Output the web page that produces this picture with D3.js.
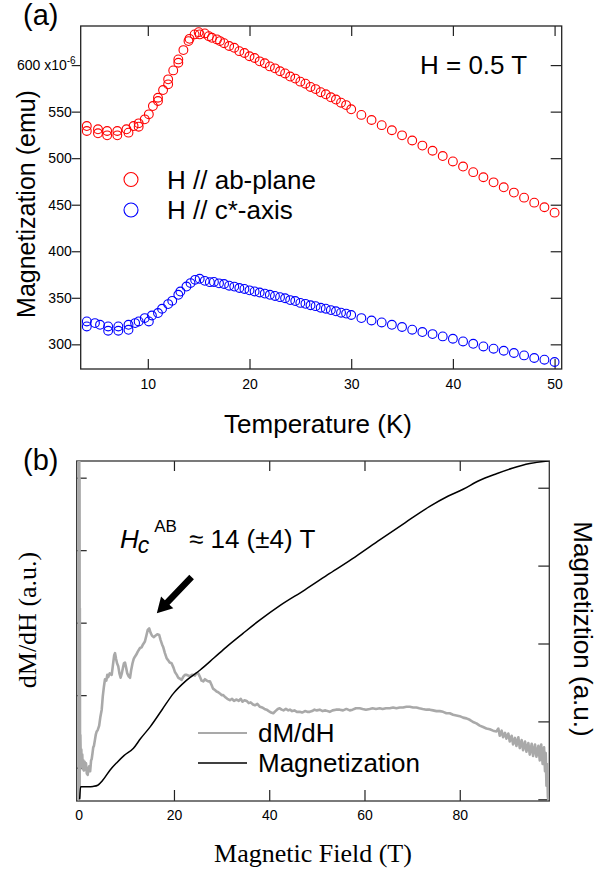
<!DOCTYPE html>
<html><head><meta charset="utf-8">
<script src="https://cdn.jsdelivr.net/npm/d3@7"></script>
<style>
body{margin:0;background:#fff}
svg{display:block}
text{font-family:"Liberation Sans",Arial,sans-serif;fill:#000}
.serif{font-family:"Liberation Serif","Times New Roman",serif}
</style>
</head><body>
<svg id="c" width="598" height="875"></svg>
<script>
// ---------- Panel (a) data ----------
const tempAB = [4.0,4.0,5.1,5.1,6.0,6.0,7.0,7.0,7.9,8.1,8.6,9.1,9.1,9.7,10.1,10.5,11.0,11.0,11.5,12.0,12.0,12.5,13.0,13.0,13.5,14.0,14.1,14.6,15.0,15.1,15.6,16.0,16.3,16.8,17.1,17.5,18.0,18.5,19.0,19.5,20.0,20.5,21.0,21.5,22.0,22.5,23.0,23.5,24.0,24.5,25.0,25.5,26.0,26.5,27.0,27.5,28.0,28.5,29.0,29.5,30.0,31,32,33,34,35,36,37,38,39,40,41,42,43,44,45,46,47,48,49,50];
const magAB  = [534.5,529.2,531.0,526.7,529.2,524.5,529.2,524.5,531.0,527.4,534.5,537.4,533.8,541.7,547.1,556.0,561.4,564.9,573.2,579.3,584.7,594.3,602.5,606.1,616.1,625.8,628.2,633.0,635.4,633.0,634.0,631.1,629.3,627.6,625.8,623.5,620.5,618.6,615.0,613.0,609.5,607.6,604.0,602.0,598.6,596.5,593.4,591.0,587.7,585.5,582.2,580.0,576.5,574.2,570.9,568.6,565.4,563.0,559.6,557.0,552.5,546.5,541.0,535.5,530.0,524.5,519.0,513.5,508.0,502.3,496.5,491.0,485.0,479.5,474.0,468.7,463.0,457.6,452.2,447.3,441.5];
const tempC  = [4.0,4.0,4.8,5.3,6.1,6.1,7.1,7.1,8.1,8.1,8.75,9.1,9.7,10.1,10.4,11.0,11.4,12.0,12.4,13.0,13.2,13.8,14.2,14.65,15.1,15.6,16.1,16.5,17.0,17.5,18.0,18.5,19.0,19.5,20.0,20.5,21.0,21.5,22.0,22.5,23.0,23.5,24.0,24.5,25.0,25.5,26.0,26.5,27.0,27.5,28.0,28.5,29.0,29.5,30.0,31,32,33,34,35,36,37,38,39,40,41,42,43,44,45,46,47,48,49,50];
const magC   = [324.6,319.2,322.8,321.0,319.2,314.6,319.2,314.6,321.0,315.6,322.8,324.6,328.2,324.6,331.0,333.6,338.2,343.2,346.7,353.2,356.7,362.1,365.8,369.3,370.4,368.2,366.8,367.0,365.5,364.8,363.0,362.0,360.5,359.5,358.0,356.8,355.7,354.5,353.2,352.0,350.7,349.5,347.5,346.5,344.5,343.5,342.0,341.0,339.3,338.3,336.8,335.5,334.0,333.0,331.5,328.2,325.6,323.5,321.0,318.6,315.7,313.2,311.0,308.5,306.0,303.1,300.6,297.7,295.3,293.1,290.7,288.1,285.3,283.5,281.0];
const xTicksA = [10,20,30,40,50];
const yTicksA = [300,350,400,450,500,550,600];
const legendA = ["H // ab-plane","H // c*-axis"];
const colorsA = ["#ff0000","#0000ff"];

// ---------- Panel (b) data ----------
const fieldD = [0.00,0.03,0.06,0.09,0.12,0.15,0.18,0.21,0.24,0.28,0.35,0.45,0.55,0.65,0.75,0.85,0.97,1.10,1.25,1.40,1.53,1.70,1.89,2.05,2.20,2.40,2.60,2.73,2.90,3.05,3.20,3.40,3.60,3.78,4.00,4.30,4.55,4.83,5.05,5.30,5.52,5.80,6.00,6.20,6.50,6.93,7.20,7.45,7.62,7.85,8.05,8.30,8.55,8.80,9.05,9.30,9.50,9.72,9.95,10.20,10.50,10.77,11.00,11.30,11.55,11.80,12.10,12.40,12.87,13.20,13.50,13.90,14.20,14.50,14.80,15.10,15.40,15.80,16.10,16.50,16.90,17.20,17.50,17.76,18.10,18.46,18.80,19.10,19.50,19.90,20.20,20.60,20.90,21.20,21.60,22.00,22.30,22.70,23.00,23.40,23.70,24.05,24.40,24.70,25.10,25.40,25.80,26.15,26.50,26.90,27.20,27.55,27.90,28.20,28.60,28.95,29.30,29.70,30.00,30.35,30.80,31.20,31.75,32.20,32.60,33.15,33.60,34.00,34.40,34.80,35.26,35.70,36.10,36.60,37.00,37.50,38.05,38.50,39.00,39.45,39.90,40.40,40.85,41.30,41.80,42.20,42.60,43.00,43.50,44.00,44.35,44.80,45.30,45.80,46.40,46.90,47.50,48.00,48.50,49.00,49.50,50.00,50.60,51.20,51.80,52.70,53.30,54.00,54.80,55.50,56.20,56.90,57.50,58.20,59.00,59.60,60.30,61.10,61.70,62.40,63.20,63.80,64.50,65.30,66.00,66.70,67.40,68.10,68.80,69.50,70.20,70.90,71.50,72.20,73.00,73.70,74.40,75.10,75.80,76.50,77.20,77.90,78.60,79.30,80.00,80.70,81.40,82.10,82.80,83.50,84.20,84.90,85.60,86.30,87.00,87.70,88.10,88.40,88.80,89.10,89.50,89.80,90.20,90.50,90.90,91.20,91.60,91.90,92.30,92.60,93.00,93.30,93.70,94.00,94.40,94.70,95.10,95.40,95.80,96.10,96.50,96.80,97.10,97.40,97.70,97.90,98.05,98.20,98.35,98.50,98.60];
const dmdh   = [5.40,0.56,5.40,0.58,5.40,0.60,5.00,0.70,3.20,1.10,1.45,1.05,1.25,1.02,1.18,0.98,1.10,0.96,1.08,0.98,1.06,0.92,0.90,0.98,1.02,0.95,1.10,1.12,1.20,1.28,1.30,1.38,1.46,1.50,1.52,1.58,1.70,1.80,1.98,2.12,2.22,2.20,2.28,2.25,2.30,2.28,2.42,2.55,2.58,2.50,2.44,2.40,2.30,2.24,2.30,2.38,2.44,2.45,2.38,2.30,2.26,2.24,2.34,2.44,2.50,2.53,2.56,2.60,2.65,2.66,2.70,2.74,2.82,2.90,2.92,2.86,2.82,2.80,2.82,2.84,2.83,2.76,2.70,2.66,2.58,2.51,2.48,2.45,2.44,2.38,2.32,2.28,2.24,2.23,2.21,2.26,2.28,2.28,2.27,2.26,2.28,2.28,2.27,2.30,2.30,2.26,2.20,2.19,2.22,2.20,2.19,2.19,2.14,2.09,2.07,2.05,2.04,2.02,2.00,2.00,1.97,1.95,1.93,1.95,1.92,1.94,1.92,1.95,1.91,1.93,1.92,1.89,1.90,1.87,1.86,1.88,1.84,1.83,1.81,1.80,1.78,1.76,1.75,1.78,1.81,1.82,1.80,1.79,1.81,1.79,1.80,1.78,1.79,1.77,1.77,1.76,1.78,1.77,1.77,1.78,1.80,1.79,1.80,1.78,1.79,1.77,1.79,1.80,1.80,1.79,1.81,1.79,1.80,1.82,1.82,1.81,1.80,1.81,1.82,1.81,1.82,1.81,1.82,1.82,1.83,1.82,1.83,1.83,1.84,1.84,1.83,1.83,1.82,1.81,1.80,1.80,1.79,1.78,1.78,1.77,1.75,1.75,1.73,1.72,1.71,1.69,1.68,1.66,1.63,1.61,1.58,1.56,1.54,1.53,1.51,1.50,1.54,1.44,1.51,1.42,1.48,1.40,1.47,1.36,1.44,1.32,1.41,1.30,1.42,1.27,1.38,1.24,1.36,1.22,1.34,1.18,1.33,1.16,1.32,1.15,1.30,1.10,1.32,1.05,1.28,0.95,1.20,0.75,1.05,0.60,0.55];
const fieldM = [0.20,0.40,1.00,2.00,3.00,4.00,5.00,6.60,8.00,9.50,11.50,13.00,15.00,17.50,19.90,22.50,25.50,28.50,31.10,34.50,38.00,42.30,47.50,52.70,58.00,63.20,68.50,73.70,77.50,80.70,84.00,87.70,91.00,94.70,98.00,98.80];
const magB   = [0.00,0.16,0.16,0.16,0.165,0.18,0.24,0.376,0.47,0.56,0.655,0.78,0.93,1.15,1.36,1.52,1.66,1.82,1.96,2.13,2.30,2.49,2.69,2.90,3.11,3.33,3.55,3.76,3.89,3.98,4.09,4.18,4.25,4.31,4.34,4.345];
const xTicksB = [0,20,40,60,80];
const yTicksDm = [1,2,3,4,5];
const yTicksM = [0,1,2,3,4];
const legendB = ["dM/dH","Magnetization"];
const colorsB = ["#a9a9a9","#000000"];
const arrowFrom = [23.7,3.63];
const arrowTo = [16.4,3.13];

const svg = d3.select("#c");
const axisColor = "#222";

function styleAxis(g){
  g.select(".domain").remove();
  g.selectAll(".tick line").attr("stroke",axisColor).attr("stroke-width",1.2);
  g.selectAll(".tick text").attr("font-size",14).attr("fill","#222")
   .attr("font-family","'Liberation Sans',Arial,sans-serif");
}

// ================= Panel (a) =================
const xA = d3.scaleLinear([3.4,50.7],[80.7,561.7]);
const yA = d3.scaleLinear([273.5,642],[369,26]);
const gA = svg.append("g");

gA.append("g").attr("transform",`translate(0,${yA.range()[0]})`)
  .call(d3.axisBottom(xA).tickValues(xTicksA).tickSize(-10).tickPadding(10)).call(styleAxis);
gA.append("g").attr("transform",`translate(0,${yA.range()[1]})`)
  .call(d3.axisTop(xA).tickValues(xTicksA).tickSize(-10).tickFormat("")).call(styleAxis);
const leftA = gA.append("g").attr("transform",`translate(${xA.range()[0]},0)`)
  .call(d3.axisLeft(yA).tickValues(yTicksA).tickSize(9).tickPadding(0)
        .tickFormat(d=> d===600 ? "600 x10" : d3.format("d")(d))).call(styleAxis);
leftA.selectAll(".tick").filter(d=>d===600).select("text")
  .attr("dx",4)
  .append("tspan").attr("dy",-6).attr("font-size",10).text("-6");
gA.append("g").attr("transform",`translate(${xA.range()[1]},0)`)
  .call(d3.axisRight(yA).tickValues(yTicksA).tickSize(-11).tickFormat("")).call(styleAxis);

gA.append("rect").attr("x",xA.range()[0]).attr("y",yA.range()[1])
  .attr("width",xA.range()[1]-xA.range()[0]).attr("height",yA.range()[0]-yA.range()[1])
  .attr("fill","none").attr("stroke",axisColor).attr("stroke-width",1.3);

const seriesA = [
  {t:tempAB,m:magAB,c:colorsA[0]},
  {t:tempC,m:magC,c:colorsA[1]}
];
seriesA.forEach(s=>{
  gA.append("g").selectAll("circle").data(s.t.map((t,i)=>[t,s.m[i]])).join("circle")
    .attr("cx",d=>xA(d[0])).attr("cy",d=>yA(d[1])).attr("r",4.4)
    .attr("fill","none").attr("stroke",s.c).attr("stroke-width",1.1);
});

// legend (a)
legendA.forEach((lab,i)=>{
  const y = 179.5 + i*30.5;
  gA.append("circle").attr("cx",131).attr("cy",y).attr("r",7).attr("fill","none")
    .attr("stroke",colorsA[i]).attr("stroke-width",1.1);
  gA.append("text").attr("x",167).attr("y",y+9).attr("font-size",26).text(lab);
});
gA.append("text").attr("x",420).attr("y",74).attr("font-size",26).text("H = 0.5 T");
gA.append("text").attr("x",23).attr("y",25).attr("font-size",29).text("(a)");
gA.append("text").attr("transform","translate(35,204) rotate(-90)")
  .attr("text-anchor","middle").attr("font-size",25).text("Magnetization (emu)");
gA.append("text").attr("x",318).attr("y",433).attr("text-anchor","middle")
  .attr("font-size",26).text("Temperature (K)");

// ================= Panel (b) =================
const xB = d3.scaleLinear([-0.42,98.8],[76.7,549.3]);
const yD = d3.scaleLinear([0.54,5.23],[801,461]);
const yM = d3.scaleLinear([-0.022,4.343],[801,461]);
const gB = svg.append("g");

gB.append("g").attr("transform",`translate(0,${yD.range()[0]})`)
  .call(d3.axisBottom(xB).tickValues(xTicksB).tickSize(-11).tickPadding(9)).call(styleAxis);
gB.append("g").attr("transform",`translate(0,${yD.range()[1]})`)
  .call(d3.axisTop(xB).tickValues(xTicksB).tickSize(-10).tickFormat("")).call(styleAxis);
gB.append("g").attr("transform",`translate(${xB.range()[0]},0)`)
  .call(d3.axisLeft(yD).tickValues(yTicksDm).tickSize(-10).tickFormat("")).call(styleAxis);
gB.append("g").attr("transform",`translate(${xB.range()[1]},0)`)
  .call(d3.axisRight(yM).tickValues(yTicksM).tickSize(-11).tickFormat("")).call(styleAxis);
gB.append("rect").attr("x",xB.range()[0]).attr("y",yD.range()[1])
  .attr("width",xB.range()[1]-xB.range()[0]).attr("height",yD.range()[0]-yD.range()[1])
  .attr("fill","none").attr("stroke","#333").attr("stroke-width",1.3);

svg.append("defs").append("clipPath").attr("id","clipB").append("rect")
  .attr("x",xB.range()[0]).attr("y",yD.range()[1])
  .attr("width",xB.range()[1]-xB.range()[0]).attr("height",yD.range()[0]-yD.range()[1]);

const lineD = d3.line().x(d=>xB(d[0])).y(d=>yD(d[1]));
const lineM = d3.line().x(d=>xB(d[0])).y(d=>yM(d[1])).curve(d3.curveMonotoneX);
gB.append("path").attr("clip-path","url(#clipB)")
  .attr("d",lineD(fieldD.map((f,i)=>[f,dmdh[i]])))
  .attr("fill","none").attr("stroke",colorsB[0]).attr("stroke-width",2.6).attr("stroke-linejoin","round");
gB.append("path").attr("clip-path","url(#clipB)")
  .attr("d",lineM(fieldM.map((f,i)=>[f,magB[i]])))
  .attr("fill","none").attr("stroke",colorsB[1]).attr("stroke-width",1.5);

// legend (b)
legendB.forEach((lab,i)=>{
  const y = 733 + i*30;
  gB.append("line").attr("x1",198).attr("x2",247).attr("y1",y).attr("y2",y)
    .attr("stroke",colorsB[i]).attr("stroke-width",i===0?2:1.5);
  gB.append("text").attr("x",258).attr("y",y+9).attr("font-size",26).text(lab);
});

// annotation + arrow
const ax0 = xB(arrowFrom[0]), ay0 = yD(arrowFrom[1]);
const ax1 = xB(arrowTo[0]), ay1 = yD(arrowTo[1]);
const L = Math.hypot(ax1-ax0, ay1-ay0), ux=(ax1-ax0)/L, uy=(ay1-ay0)/L, nx=-uy, ny=ux;
const headL = 15, headW = 8.5, shaftW = 3.2;
const bx = ax1-ux*headL, by = ay1-uy*headL;
const pts = [
  [ax0+nx*shaftW, ay0+ny*shaftW],[bx+nx*shaftW, by+ny*shaftW],[bx+nx*headW, by+ny*headW],
  [ax1, ay1],[bx-nx*headW, by-ny*headW],[bx-nx*shaftW, by-ny*shaftW],[ax0-nx*shaftW, ay0-ny*shaftW]
];
gB.append("path").attr("d",d3.line()(pts)+"Z").attr("fill","#000");

const ann = gB.append("text").attr("x",120).attr("y",548).attr("font-size",26);
ann.append("tspan").attr("font-style","italic").text("H");
ann.append("tspan").attr("font-style","italic").attr("font-size",23).attr("dy",5).attr("dx",-1).text("c");
ann.append("tspan").attr("font-size",17).attr("dy",-21).attr("dx",5).text("AB");
ann.append("tspan").attr("dy",16).attr("dx",12).text("≈ 14 (±4) T");

gB.append("text").attr("x",23).attr("y",470).attr("font-size",29).text("(b)");
gB.append("text").attr("class","serif").attr("transform","translate(36,620) rotate(-90)")
  .attr("text-anchor","middle").attr("font-size",26).text("dM/dH (a.u.)");
gB.append("text").attr("transform","translate(574,629) rotate(90)")
  .attr("text-anchor","middle").attr("font-size",26).text("Magnetiztion (a.u.)");
gB.append("text").attr("class","serif").attr("x",313).attr("y",862)
  .attr("text-anchor","middle").attr("font-size",26).text("Magnetic Field (T)");
</script>
</body></html>
